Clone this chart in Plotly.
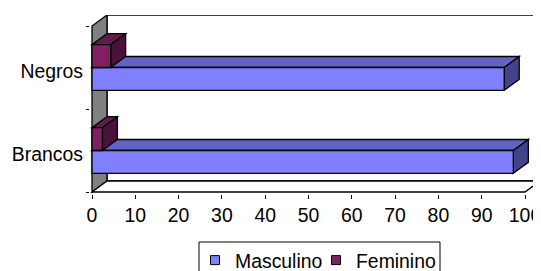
import plotly.graph_objects as go

# ---- data ----
categories = ["Brancos", "Negros"]
masculino = [97.3, 95.2]
feminino = [2.4, 4.3]
x_ticks = list(range(0, 101, 10))
series_names = ["Masculino", "Feminino"]

# ---- styling ----
front_colors = ["#8080FF", "#802060"]
top_colors = ["#6262C4", "#651A4C"]
side_colors = ["#43438A", "#4A1238"]
FONT = "Liberation Sans, Arial, sans-serif"
FS = 19.4

# the page body has an 8px margin, so the figure is sized to the visible area
OFF = 8
W, H = 541 - OFF, 271 - OFF
ml, mr, mt, mb = 90 - OFF, 1, 15 - OFF, 77
plot_w = W - ml - mr
plot_h = H - mt - mb
kx = 4.33          # px per value unit
ky = 83.0          # px per category unit
x_range = [-2 / kx, (plot_w - 2) / kx]
y_bottom = -0.5 - 2 / ky
y_range = [y_bottom, y_bottom + plot_h / ky]
dxu = 15 / kx                  # depth offset in x units
dyu = y_range[1] - 1.5         # depth offset in y units

bargap = 0.45
bw = (1 - bargap) / 2

fig = go.Figure()
series = [masculino, feminino]
for name, vals, col in zip(series_names, series, front_colors):
    fig.add_trace(go.Bar(
        y=list(range(len(categories))), x=vals, orientation="h", name=name,
        marker=dict(color=col, line=dict(color="black", width=1.3)),
        showlegend=False,
    ))
    fig.add_trace(go.Scatter(
        x=[None], y=[None], mode="markers", name=name,
        marker=dict(symbol="square", size=9, color=col,
                    line=dict(color="black", width=1)),
    ))


def path(pts):
    return "M " + " L ".join(f"{x},{y}" for x, y in pts) + " Z"


def px2paper_x(px):
    return (px - OFF - ml) / plot_w


def px2paper_y(py):
    return (H - mb - (py - OFF)) / plot_h


shapes = []
# back wall
shapes.append(dict(type="rect", xref="x", yref="y", layer="below",
                   x0=dxu, x1=100 + dxu, y0=-0.5 + dyu, y1=1.5 + dyu,
                   fillcolor="white", line=dict(color="black", width=1.3)))
# left wall
shapes.append(dict(type="path", xref="x", yref="y", layer="below",
                   path=path([(0, -0.5), (0, 1.5), (dxu, 1.5 + dyu), (dxu, -0.5 + dyu)]),
                   fillcolor="#808080", line=dict(color="black", width=1.3)))
# floor
shapes.append(dict(type="path", xref="x", yref="y", layer="below",
                   path=path([(0, -0.5), (100, -0.5), (100 + dxu, -0.5 + dyu), (dxu, -0.5 + dyu)]),
                   fillcolor="white", line=dict(color="black", width=1.3)))

# 3D faces of bars
for si, vals in enumerate(series):
    for ci, v in enumerate(vals):
        y0 = ci - bw + si * bw
        y1 = y0 + bw
        shapes.append(dict(type="path", xref="x", yref="y", layer="below",
                           path=path([(0, y1), (v, y1), (v + dxu, y1 + dyu), (dxu, y1 + dyu)]),
                           fillcolor=top_colors[si], line=dict(color="black", width=1.3)))
        shapes.append(dict(type="path", xref="x", yref="y", layer="below",
                           path=path([(v, y0), (v, y1), (v + dxu, y1 + dyu), (v + dxu, y0 + dyu)]),
                           fillcolor=side_colors[si], line=dict(color="black", width=1.3)))

# legend frame (page px: x 199..440, top 242)
shapes.append(dict(type="rect", xref="paper", yref="paper", layer="below",
                   x0=px2paper_x(199), x1=px2paper_x(440),
                   y0=px2paper_y(290), y1=px2paper_y(242),
                   fillcolor="white", line=dict(color="black", width=1)))

fig.update_layout(
    width=W, height=H,
    margin=dict(l=ml, r=mr, t=mt, b=mb, autoexpand=False),
    paper_bgcolor="white", plot_bgcolor="rgba(0,0,0,0)",
    barmode="group", bargap=bargap, bargroupgap=0,
    font=dict(family=FONT, size=FS, color="black"),
    shapes=shapes,
    showlegend=True,
    legend=dict(orientation="h", x=px2paper_x(195), xanchor="left",
                y=px2paper_y(241), yanchor="top",
                borderwidth=0, bgcolor="rgba(0,0,0,0)",
                entrywidth=76, entrywidthmode="pixels",
                font=dict(family=FONT, size=FS, color="black"),
                itemclick=False, tracegroupgap=0),
)
fig.update_xaxes(range=x_range, tickvals=x_ticks, ticks="outside", ticklen=4,
                 tickcolor="black", showgrid=False, zeroline=False, showline=False,
                 ticklabeloverflow="allow",
                 tickfont=dict(family=FONT, size=FS, color="black"))
fig.update_yaxes(range=y_range,
                 tickvals=[i - 0.04 for i in range(len(categories))],
                 ticktext=categories, ticks="", showgrid=False, zeroline=False,
                 showline=False, ticklabelstandoff=6,
                 minor=dict(tickvals=[-0.5, 0.5, 1.5], ticks="outside", ticklen=3,
                            tickcolor="black", showgrid=False),
                 tickfont=dict(family=FONT, size=FS, color="black"))

fig.write_html("out.html")
